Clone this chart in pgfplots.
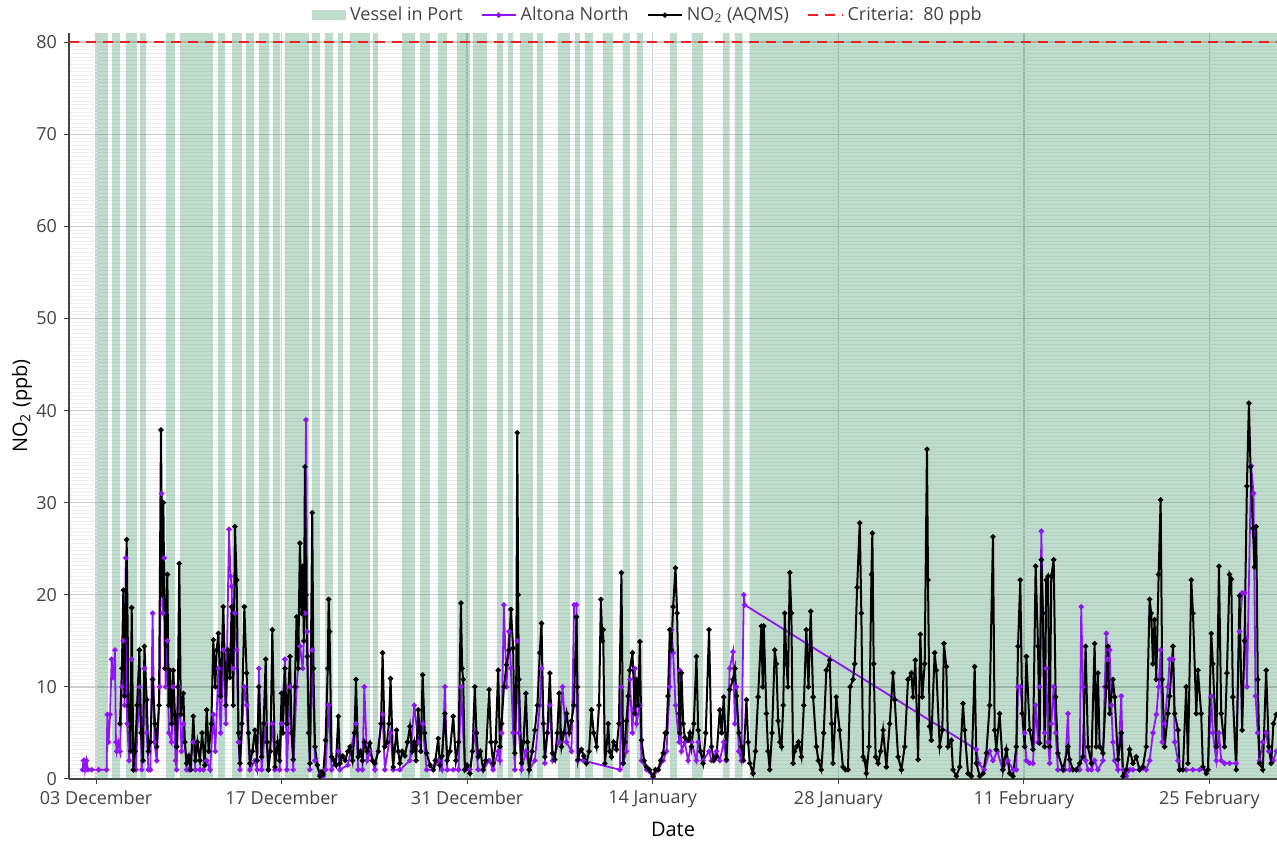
\documentclass[border=0pt]{standalone}
\usepackage{fontspec}
\setmainfont{Open Sans}
\usepackage{pgfplots}
\usepackage{pgfplotstable}
\pgfplotsset{compat=1.18}

\definecolor{vessel}{RGB}{46,139,87}
\definecolor{altona}{RGB}{145,20,245}
\definecolor{txt}{RGB}{68,68,68}
\definecolor{crit}{RGB}{240,30,30}

% vessel in port: band start -> 81, band end -> 0 (days after 3 Dec)
\pgfplotstableread{
x y
0.08 81
0.90 0
1.21 81
1.81 0
2.26 81
3.09 0
3.32 81
3.77 0
5.28 81
5.96 0
6.33 81
8.82 0
9.20 81
9.73 0
10.26 81
11.01 0
11.31 81
11.92 0
12.29 81
13.05 0
13.35 81
13.88 0
14.25 81
16.06 0
16.29 81
16.89 0
17.27 81
17.87 0
18.25 81
18.63 0
19.16 81
20.66 0
20.89 81
21.27 0
23.08 81
24.06 0
24.43 81
25.19 0
25.79 81
26.47 0
27.22 81
28.21 0
28.43 81
29.49 0
30.24 81
30.69 0
31.07 81
31.45 0
31.98 81
32.96 0
33.26 81
33.71 0
34.84 81
35.75 0
36.12 81
36.50 0
36.88 81
37.48 0
38.24 81
38.99 0
39.74 81
40.27 0
40.80 81
41.25 0
43.29 81
43.82 0
44.95 81
45.78 0
47.29 81
47.81 0
48.19 81
48.79 0
49.32 81
89.10 81
}\bands

% NO2 (AQMS)
\pgfplotstableread{
x y
1.81 6.0
1.95 12
2.06 20.5
2.15 9
2.31 26.0
2.45 8
2.60 3
2.69 18.6
2.82 1.0
2.95 3
3.10 8
3.27 14.0
3.40 5
3.55 2
3.65 14.4
3.82 8.6
3.95 3
4.10 4
4.27 10.8
4.45 6
4.58 3.5
4.75 8
4.90 37.9
5.00 20
5.08 30.0
5.20 12
5.38 22.2
5.48 8
5.58 11.8
5.70 6
5.83 11.8
5.95 7
6.08 3.5
6.18 10
6.28 23.4
6.40 7
6.59 9.3
6.70 4
6.84 1.7
7.00 2.5
7.15 1.0
7.34 6.8
7.50 2
7.65 4
7.84 2
8.00 5
8.20 1.5
8.35 7.5
8.50 3
8.70 6
8.85 15.1
9.00 10
9.10 14
9.23 15.8
9.40 9
9.60 18.7
9.80 8
9.95 14
10.10 11
10.23 18.7
10.35 8
10.48 27.4
10.61 21.6
10.75 5
10.86 1.7
11.00 6
11.19 18.7
11.36 11.5
11.50 5
11.61 1.7
11.80 3
11.99 5.3
12.15 2
12.29 10
12.49 2.4
12.65 6
12.80 13.0
12.90 4
13.00 1.0
13.15 3
13.30 16.2
13.50 1.3
13.70 4
13.85 2
14.00 9.3
14.10 5
14.25 12
14.40 6
14.63 13.3
14.75 5
14.88 2.1
15.00 10
15.13 17.6
15.25 12
15.38 25.6
15.50 18
15.59 23.1
15.68 15
15.76 33.9
15.85 20
15.94 13.3
16.05 5
16.14 1.7
16.31 28.9
16.40 12
16.52 3.5
16.70 1.5
16.89 0.3
17.00 0.8
17.14 0.5
17.32 4.2
17.48 12
17.55 19.5
17.62 16
17.77 2.4
17.95 2
18.10 1.5
18.28 6.8
18.40 1.7
18.60 2.5
18.80 2
19.00 3
19.16 3.5
19.35 2
19.50 5
19.61 10.8
19.78 2.4
19.95 3
20.10 2
20.24 4
20.45 3
20.66 3.9
20.85 2
21.04 1.7
21.30 3
21.50 6
21.62 13.7
21.79 3.5
21.95 4
22.10 6
22.22 10.9
22.42 1.3
22.67 5.3
22.80 3
22.93 1.7
23.10 3
23.30 2.5
23.50 4
23.68 5.7
23.85 3
24.01 4
24.15 2
24.31 7.5
24.50 3
24.64 11.3
24.80 5
24.94 2.8
25.20 1.5
25.44 1.0
25.60 2
25.82 4.4
25.94 1.5
26.10 2.5
26.32 7.1
26.50 2
26.70 3
26.95 6.8
27.15 2
27.35 4
27.53 19.1
27.62 12
27.70 10.8
27.83 1.0
28.00 1.5
28.21 0.6
28.40 3
28.58 10.0
28.70 5
28.83 2.4
29.00 3
29.21 1.0
29.40 2
29.66 9.7
29.80 4
29.96 1.7
30.15 4
30.34 11.8
30.47 3.5
30.60 6
30.77 10
30.97 12.4
31.15 14
31.30 18.4
31.47 14.2
31.60 2.8
31.70 10
31.78 37.6
31.85 20
31.90 10.8
32.10 1.7
32.25 4
32.43 9.3
32.55 4
32.68 1.0
32.90 3
33.11 5.3
33.30 8
33.48 13.7
33.61 16.9
33.75 6
33.86 2.4
34.05 5
34.24 11.5
34.44 2.8
34.62 2.1
34.80 5
34.94 9.3
35.12 3.5
35.30 5
35.50 7.1
35.70 5
35.87 6.3
36.05 8
36.25 17.6
36.32 10
36.37 2.1
36.50 3
36.62 3.2
36.80 2.5
37.00 1.7
37.20 3
37.38 7.5
37.55 5
37.76 3.5
37.95 8
38.09 19.5
38.20 15
38.26 16.2
38.39 1.7
38.55 4
38.64 6
38.75 3
38.89 2.4
39.05 4
39.27 3.2
39.45 6
39.64 22.4
39.77 1.7
39.90 4
40.02 6.3
40.15 9
40.27 11.8
40.47 13.7
40.65 7.1
40.77 10.8
40.90 8
41.03 14.9
41.15 4.2
41.35 2
41.53 1.3
41.75 1
42.03 0.3
42.20 1
42.41 1.0
42.60 2
42.79 2.8
42.95 5
43.04 5
43.15 9
43.29 16.2
43.40 14
43.54 18.7
43.72 22.9
43.84 18
43.99 7.1
44.05 5
44.17 11.5
44.30 6
44.42 4.5
44.67 4.2
44.80 5
44.92 3.5
45.10 6
45.30 13.3
45.43 5.3
45.60 3
45.80 1.7
46.00 5
46.25 16.2
46.43 3.5
46.60 2
46.81 2.4
47.06 7.5
47.20 5
47.36 8.9
47.56 2.1
47.81 9.7
48.06 10.8
48.20 12
48.32 9
48.50 5
48.69 3.5
48.85 2
49.07 8.6
49.20 4
49.32 1.7
49.57 0.6
49.75 3
49.95 8.9
50.20 16.6
50.30 10
50.38 16.6
50.58 7.1
50.70 3
50.83 1.0
51.00 5
51.21 14.0
51.33 12.5
51.46 6.3
51.60 4
51.71 3.5
51.85 8
51.96 18.0
52.09 12.5
52.20 10
52.34 22.4
52.46 18
52.59 1.7
52.70 3
52.84 3.5
53.00 4
53.22 2.4
53.40 8
53.59 16.2
53.75 10
53.92 18.2
54.10 8.9
54.35 3.5
54.50 2
54.72 1.0
54.90 5
55.10 11.8
55.35 12.9
55.50 6
55.60 1.7
55.85 8.9
56.10 5.3
56.35 1.3
56.55 1.0
56.73 1.0
56.90 10
57.11 10.8
57.24 12.5
57.42 20.8
57.62 27.8
57.74 18
57.87 2.4
58.00 2
58.12 0.6
58.32 3.5
58.50 22.2
58.57 26.7
58.67 12.5
58.82 2.4
59.00 1.7
59.20 3
59.38 5.3
59.63 1.3
59.88 6.0
60.13 11.5
60.26 8.6
60.51 2.4
60.76 1.0
61.01 3.5
61.26 10.8
61.51 11.5
61.64 8.9
61.81 12.9
62.02 2.1
62.19 15.7
62.34 8.9
62.52 12.5
62.69 35.8
62.77 21.6
62.89 5.7
63.02 4.2
63.27 13.7
63.40 11.8
63.65 3.5
63.85 5.3
63.97 14.7
64.15 12.2
64.28 3.5
64.53 4.2
64.65 1.0
64.91 0.3
65.16 1.3
65.41 8.2
65.53 5.3
65.79 0.6
66.04 0.3
66.29 12.2
66.42 1.7
66.67 0.3
66.92 0.6
67.17 2.8
67.42 8.0
67.67 26.3
67.80 5.3
67.92 3.2
68.17 7.1
68.43 1.0
68.68 3.2
68.93 0.6
69.18 0.3
69.43 3.5
69.56 14.4
69.73 21.6
69.88 7.1
70.06 3.5
70.19 13.3
70.44 5.3
70.69 3.2
70.89 23.1
71.07 14.4
71.19 3.9
71.32 23.8
71.44 18
71.57 3.5
71.69 21.6
71.82 22
71.95 3.5
72.07 22
72.25 23.8
72.40 8.9
72.57 2.8
72.95 1.0
73.33 3.5
73.45 2.1
73.71 1.0
73.96 1.0
74.21 1.7
74.46 2.4
74.66 14.4
74.84 3.5
75.09 1.7
75.34 14.7
75.46 3.5
75.59 11.5
75.72 3.5
75.97 2.8
76.22 10
76.34 14.4
76.47 7.1
76.72 10.8
76.85 8.9
77.10 2.1
77.35 5
77.48 0.3
77.73 1.0
77.98 3.2
78.23 1.7
78.48 2.4
78.73 1.0
78.98 1.3
79.23 3.5
79.49 19.5
79.61 18
79.74 12.5
79.86 17.3
79.99 10.8
80.17 22.2
80.32 30.3
80.44 10.8
80.62 3.5
80.87 7.1
81.00 9
81.25 14.4
81.38 7.1
81.63 5.3
81.75 1.0
82.00 1.0
82.25 10
82.38 1.7
82.63 21.6
82.76 18
83.01 7.1
83.13 11.8
83.38 7.1
83.51 1.3
83.76 0.6
83.89 1.0
84.14 15.8
84.26 12.5
84.52 3.5
84.72 23.1
84.89 7.1
85.14 3.5
85.32 11.5
85.52 22.2
85.65 21.7
85.77 8.9
86.02 1.0
86.27 19.9
86.47 5.3
86.65 15
86.83 31.8
86.98 40.8
87.10 33.9
87.28 27.2
87.40 23
87.53 27.4
87.65 10.8
87.78 1.7
88.03 1.0
88.28 11.8
88.48 3.5
88.66 1.7
88.83 6.0
89.05 7
}\aqms

% Altona North
\pgfplotstableread{
x y
-1.01 1.0
-0.95 2.0
-0.88 2.0
-0.83 1.0
-0.72 2.0
-0.62 1.0
-0.33 1.0
0.20 1.0
0.80 1.0
0.85 7.0
0.95 4.0
1.06 7.0
1.18 13.0
1.30 11.0
1.43 14.0
1.50 4.0
1.56 3.0
1.68 4.0
1.81 3.0
1.95 10
2.06 15
2.15 8
2.24 24
2.35 6
2.50 2
2.69 13
2.82 1
3.00 1
3.27 10
3.45 1
3.65 12
3.82 5
3.95 1
4.10 1
4.27 18
4.40 4
4.58 2
4.80 10
4.95 31
5.05 18
5.15 24
5.25 10
5.38 15
5.50 5
5.70 4
5.83 10
6.00 2
6.08 1
6.28 10
6.45 3
6.59 6
6.84 1
7.00 1
7.34 4
7.50 1
7.84 1
8.10 1
8.35 2
8.60 1
8.85 7
9.00 3
9.23 12
9.40 5
9.60 14
9.80 6
10.03 27.1
10.15 22
10.23 20.9
10.35 12
10.48 18
10.61 14
10.75 4
10.86 1
11.19 10
11.36 8
11.61 1
11.99 2
12.15 1
12.29 12
12.49 1
12.80 6
13.00 1
13.30 6
13.50 1
13.85 1
14.00 6
14.25 13
14.40 1
14.63 10
14.88 1
15.13 10
15.38 14.4
15.59 12
15.76 18
15.84 39
15.94 16
16.05 5
16.14 1
16.31 14
16.52 2
16.89 0.5
17.14 0.3
17.32 1
17.55 8
17.77 1
18.28 3
18.40 1
19.00 1.5
19.61 6
19.78 1
20.10 1
20.24 10
20.45 2
20.66 3
21.04 1
21.62 7
21.79 1
22.22 5
22.42 1
22.93 1
23.68 2
24.01 8
24.31 4
24.64 6
24.94 1
25.44 1
25.82 2
26.10 1
26.32 10
26.50 1
26.95 1
27.35 1
27.53 10
27.83 1
28.21 1
28.58 5
28.83 1
29.21 1
29.66 2
29.96 1
30.34 3
30.47 2
30.60 5
30.77 18.9
30.97 10
31.15 16
31.30 12
31.47 5
31.60 1
31.78 15
31.90 5
32.10 1
32.43 3
32.68 1
33.11 2
33.48 8
33.61 12
33.86 1.7
34.24 8
34.44 2
34.94 4
35.19 10
35.50 4
35.87 3
36.07 18.9
36.25 18.9
36.32 2
36.75 2
39.52 1
39.64 10
39.77 1.7
40.02 3
40.27 10.8
40.47 5
40.65 12
40.77 6
41.03 8
41.15 2
41.53 1
42.03 0.2
42.41 1
42.79 2
43.04 3
43.29 10
43.41 16.2
43.54 13.7
43.72 8
43.99 4
44.04 11.8
44.17 3
44.42 4
44.67 2
44.92 4
45.30 2
45.43 4
45.80 2
46.25 3
46.43 2
46.81 3
47.06 2
47.36 4
47.56 2
47.81 12
48.06 13.8
48.20 6
48.32 10
48.50 3
48.69 2
48.87 20
48.94 18.9
66.42 3.2
66.60 1.7
67.00 1
67.42 3
67.67 2
68.00 3
68.40 1
68.80 2
69.18 1
69.43 1
69.56 10
69.73 10
70.06 5
70.19 2
70.44 1.7
70.69 1.7
70.89 8
71.07 4
71.19 10
71.32 26.9
71.44 18
71.57 5
71.69 12
71.82 4
71.95 1.7
72.07 6
72.25 10
72.40 5
72.57 1
72.95 1
73.10 1
73.33 7.1
73.45 1
73.71 1
73.96 1
74.21 1
74.33 18.7
74.46 10
74.66 2
74.84 1
75.09 1
75.34 2
75.59 1
75.97 2
76.10 10
76.22 15.8
76.34 13
76.47 14
76.60 8
76.72 4
76.85 2
77.10 1
77.35 9
77.48 1
77.73 0.3
77.98 1
78.23 1
78.73 1
79.23 1
79.49 2
79.74 5
80.00 7
80.17 10
80.32 14
80.44 4
80.62 6
80.87 10
81.00 13
81.25 13
81.38 4
81.63 2
81.75 1
82.25 1
82.75 1
83.25 1
83.89 1
84.14 9
84.26 5
84.52 2
84.72 5
84.89 2
85.14 1.7
85.52 1.7
86.02 1.7
86.27 16
86.47 20.2
86.65 20.2
86.83 10
87.15 34
87.33 31
87.48 9
87.65 5
87.78 2
88.03 4
88.28 5
88.48 3
88.83 2
89.05 3
}\altonadata

\begin{document}
\begin{tikzpicture}
\begin{axis}[
  name=main, set layers,
  scale only axis, width=604pt, height=373pt,
  xmin=-2.04, xmax=89.1, ymin=0, ymax=81,
  axis x line*=bottom, axis y line*=left,
  axis line style={txt, line width=0.6pt, -},
  xtick={0,14,28,42,56,70,84},
  xticklabels={03 December,17 December,31 December,14 January,28 January,11 February,25 February},
  ytick={0,10,...,80}, minor y tick num=24,
  tick align=outside, major tick length=2.5pt, minor tick length=0pt,
  tick style={txt, line width=0.5pt},
  grid=both,
  major grid style={gray!40, line width=0.7pt},
  minor grid style={gray!13, line width=0.35pt},
  ticklabel style={font=\fontsize{9}{10}\selectfont, text=txt},
  /pgf/number format/assume math mode=true,
  xlabel={Date}, ylabel={NO\textsubscript{2} (ppb)},
  label style={font=\fontsize{11}{12}\selectfont, text=txt},
  every axis x label/.style={at={(axis description cs:0.5,-0.068)}, anchor=center},
  every axis y label/.style={at={(axis description cs:-0.039,0.5)}, anchor=center, rotate=90},
  legend columns=4,
  legend style={at={(axis description cs:0.48,1.024)}, anchor=center, draw=none, fill=none,
    font=\fontsize{9}{10}\selectfont, text=txt,
    /tikz/every even column/.append style={column sep=7pt}},
]
\addplot[const plot, fill=vessel, fill opacity=0.3, draw=none,
  legend image code/.code={\fill[vessel, fill opacity=0.3] (0cm,-2.5pt) rectangle (0.6cm,2.5pt);}]
  table {\bands} \closedcycle;
\addlegendentry{Vessel in Port}
\addplot[altona, line width=0.9pt, mark=*, mark size=0.85pt] table {\altonadata};
\addlegendentry{Altona North}
\addplot[black, line width=1pt, mark=*, mark size=0.75pt] table {\aqms};
\addlegendentry{NO\textsubscript{2} (AQMS)}
\addplot[crit, line width=1.3pt, dash pattern=on 5pt off 3.5pt] coordinates {(-2.04,80) (89.1,80)};
\addlegendentry{Criteria:\ \ 80 ppb}
\end{axis}
\pgfresetboundingbox
\path ([shift={(-34.5pt,-32pt)}]main.south west) rectangle ([shift={(0pt,16.5pt)}]main.north east);
\end{tikzpicture}
\end{document}
